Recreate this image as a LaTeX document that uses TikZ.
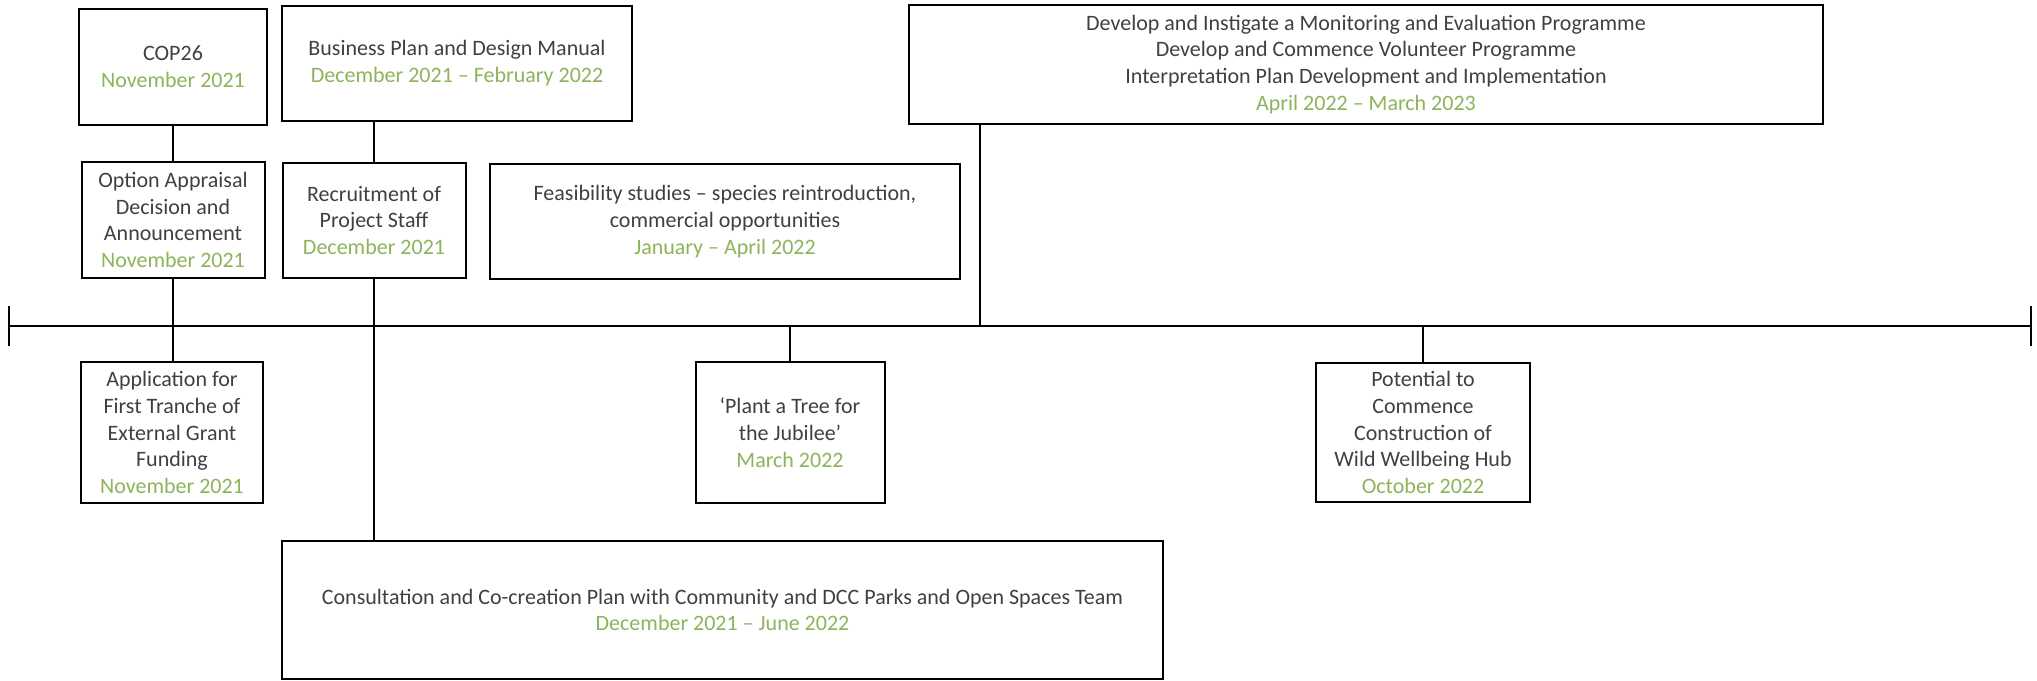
\documentclass[tikz,border=0pt]{standalone}
\usepackage{fontspec}
\setmainfont{Carlito}
\definecolor{txtgrey}{HTML}{404040}
\definecolor{dategreen}{HTML}{8DB35B}
\newcommand{\dt}[1]{\\\textcolor{dategreen}{#1}}

\begin{document}
\begin{tikzpicture}[x=0.5pt,y=-0.5pt,
  evt/.style={draw=black, line width=1pt, align=center, inner sep=0pt, text=txtgrey, font=\fontsize{11}{13.4}\selectfont},
  link/.style={line width=0.9pt}]
\useasboundingbox (0,0) rectangle (2037,680);
\node[evt, minimum width=94pt, minimum height=58pt] (cop) at (173,67) {COP26\dt{November 2021}};
\node[evt, minimum width=175pt, minimum height=57.5pt] (biz) at (457,63.5) {Business Plan and Design Manual\dt{December 2021 -- February 2022}};
\node[evt, minimum width=457pt, minimum height=59.5pt] (mon) at (1366,64.5) {Develop and Instigate a Monitoring and Evaluation Programme\\Develop and Commence Volunteer Programme\\Interpretation Plan Development and Implementation\dt{April 2022 -- March 2023}};
\node[evt, minimum width=91.5pt, minimum height=58pt] (opt) at (173,220) {Option Appraisal\\Decision and\\Announcement\dt{November 2021}};
\node[evt, minimum width=91.5pt, minimum height=57.5pt] (rec) at (374,220.5) {Recruitment of\\Project Staff\dt{December 2021}};
\node[evt, minimum width=235pt, minimum height=57.5pt] (fea) at (725,221.5) {Feasibility studies -- species reintroduction,\\commercial opportunities\dt{January -- April 2022}};
\node[evt, minimum width=91pt, minimum height=70.5pt] (app) at (172,432.5) {Application for\\First Tranche of\\External Grant\\Funding\dt{November 2021}};
\node[evt, minimum width=94.5pt, minimum height=70.5pt] (plant) at (790,432.5) {‘Plant a Tree for\\the Jubilee’\dt{March 2022}};
\node[evt, minimum width=107pt, minimum height=69.5pt] (pot) at (1423,432.5) {Potential to\\Commence\\Construction of\\Wild Wellbeing Hub\dt{October 2022}};
\node[evt, minimum width=440.5pt, minimum height=69pt] (con) at (722.5,610) {Consultation and Co-creation Plan with Community and DCC Parks and Open Spaces Team\dt{December 2021 -- June 2022}};
\coordinate (tl-l) at (9,326);
\coordinate (tl-r) at (2031,326);
\coordinate (tmon) at (980,326);
\draw[line width=1pt] (tl-l) -- (tl-r);
\draw[line width=1pt] (tl-l) ++(0,-20) -- ++(0,40);
\draw[line width=1pt] (tl-r) ++(0,-20) -- ++(0,40);
\draw[link] (cop.south) -- (cop.south |- opt.north);
\draw[link] (opt.south) -- (opt.south |- app.north);
\draw[link] (rec.north |- biz.south) -- (rec.north);
\draw[link] (rec.south) -- (rec.south |- con.north);
\draw[link] (tmon) -- (tmon |- mon.south);
\draw[link] (plant.north) -- (plant.north |- tl-l);
\draw[link] (pot.north) -- (pot.north |- tl-l);
\end{tikzpicture}
\end{document}
